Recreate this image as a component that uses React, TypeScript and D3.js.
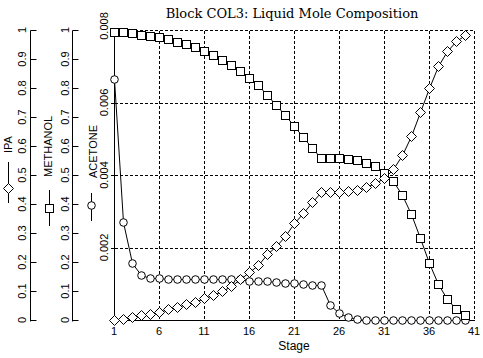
import React from 'react';
import * as d3 from 'd3';

const stages = [1,2,3,4,5,6,7,8,9,10,11,12,13,14,15,16,17,18,19,20,21,22,23,24,25,26,27,28,29,30,31,32,33,34,35,36,37,38,39,40];
const ipa = [0,0.003,0.011,0.017,0.021,0.029,0.038,0.046,0.055,0.063,0.075,0.086,0.1,0.118,0.141,0.164,0.19,0.226,0.255,0.29,0.333,0.37,0.406,0.44,0.44,0.44,0.445,0.448,0.46,0.471,0.489,0.522,0.569,0.634,0.718,0.801,0.876,0.929,0.963,0.983];
const methanol = [0.992,0.992,0.989,0.984,0.979,0.977,0.97,0.959,0.951,0.94,0.928,0.915,0.897,0.879,0.859,0.833,0.809,0.776,0.74,0.706,0.669,0.632,0.592,0.56,0.56,0.56,0.555,0.551,0.54,0.531,0.508,0.479,0.431,0.366,0.282,0.196,0.123,0.072,0.038,0.016];
const acetone = [0.00664,0.00271,0.00156,0.00124,0.00117,0.00115,0.00113,0.00113,0.00113,0.00113,0.00113,0.00113,0.00113,0.00113,0.00112,0.00108,0.00108,0.00107,0.00104,0.00103,0.00101,0.00099,0.00096,0.00096,0.00041,0.00018,0.00007,0.00002,0,0,0,0,0,0,0,0,0,0,0,0];
const xTicks = [1,6,11,16,21,26,31,36,41];
const fracTicks = [0,0.1,0.2,0.3,0.4,0.5,0.6,0.7,0.8,0.9,1];
const fracTickLabels = ["0","0.1","0.2","0.3","0.4","0.5","0.6","0.7","0.8","0.9","1"];
const aceTicks = [0.002,0.004,0.006,0.008];
const aceTickLabels = ["0.002","0.004","0.006","0.008"];
const title = "Block COL3: Liquid Mole Composition";
const xTitle = "Stage";
const seriesNames = ["IPA","METHANOL","ACETONE"];

const W = 483, H = 358;
const L = 114, R = 474, T = 30, B = 320;
const x = d3.scaleLinear().domain([1, 41]).range([L, R]);
const yF = d3.scaleLinear().domain([0, 1]).range([B, T]);
const yA = d3.scaleLinear().domain([0, 0.008]).range([B, T]);

const font = "'Liberation Sans', Arial, sans-serif";
const c = (v: number) => Math.round(v) + 0.5;

function Marker({ kind, cx, cy }: { kind: string; cx: number; cy: number }) {
  if (kind === 'square') return <rect x={c(cx) - 4} y={c(cy) - 4} width={8} height={8} fill="#fff" stroke="#000" strokeWidth={1} />;
  if (kind === 'circle') return <circle cx={c(cx)} cy={c(cy)} r={3.8} fill="#fff" stroke="#000" strokeWidth={1} />;
  const X = c(cx), Y = c(cy);
  return <path d={`M${X},${Y - 5}L${X + 5},${Y}L${X},${Y + 5}L${X - 5},${Y}Z`} fill="#fff" stroke="#000" strokeWidth={1} />;
}

export default function App() {
  const lineF = d3.line<number>().x((_, i) => c(x(stages[i]))).y(d => c(yF(d)));
  const lineA = d3.line<number>().x((_, i) => c(x(stages[i]))).y(d => c(yA(d)));
  const gridX = xTicks.filter(t => t !== 1);

  const fracAxis = (ax: number, lx: number) => (
    <g>
      <line x1={c(ax)} x2={c(ax)} y1={c(yF(0)) + 1} y2={c(yF(1))} stroke="#000" />
      {fracTicks.map((t, i) => (
        <g key={i}>
          <line x1={c(ax)} x2={c(ax) + 6} y1={c(yF(t))} y2={c(yF(t))} stroke="#000" />
          <text transform={`translate(${lx},${yF(t)}) rotate(-90)`} textAnchor="middle" fontSize={11} fontFamily={font}>{fracTickLabels[i]}</text>
        </g>
      ))}
    </g>
  );

  const legend = (name: string, kind: string, lx: number, tx: number, my: number, top: number, bottom: number, textEnd: number) => (
    <g>
      <line x1={c(lx)} x2={c(lx)} y1={bottom} y2={top} stroke="#000" />
      <Marker kind={kind} cx={lx} cy={my} />
      <text transform={`translate(${tx},${textEnd}) rotate(-90)`} textAnchor="start" fontSize={11} fontFamily={font}>{name}</text>
    </g>
  );

  return (
    <svg width={W} height={H} style={{ position: 'absolute', left: 0, top: 0, background: '#fff' }}>
      <rect width={W} height={H} fill="#fff" />
      <text x={(L + R) / 2 - 2} y={18} textAnchor="middle" fontSize={13} fontFamily="'DejaVu Serif', 'Liberation Serif', serif">{title}</text>
      {gridX.map(t => (
        <line key={t} x1={c(x(t))} x2={c(x(t))} y1={c(T)} y2={c(B)} stroke="#000" strokeDasharray="3,2" shapeRendering="crispEdges" />
      ))}
      {aceTicks.map(t => (
        <line key={t} x1={c(L)} x2={c(R)} y1={c(yA(t))} y2={c(yA(t))} stroke="#000" strokeDasharray="3,2" shapeRendering="crispEdges" />
      ))}
      <line x1={c(L)} x2={c(R)} y1={c(B)} y2={c(B)} stroke="#000" shapeRendering="crispEdges" />
      <line x1={c(L)} x2={c(L)} y1={c(T)} y2={c(B)} stroke="#000" shapeRendering="crispEdges" />
      {aceTicks.map((t, i) => (
        <g key={i}>
          <line x1={c(L) - 4} x2={c(L)} y1={c(yA(t))} y2={c(yA(t))} stroke="#000" shapeRendering="crispEdges" />
          <text transform={`translate(${108},${yA(t) - (i === aceTicks.length - 1 ? 4 : 0)}) rotate(-90)`} textAnchor="middle" fontSize={11} fontFamily={font}>{aceTickLabels[i]}</text>
        </g>
      ))}
      {xTicks.map(t => (
        <text key={t} x={x(t)} y={335} textAnchor="middle" fontSize={11} fontFamily={font}>{t}</text>
      ))}
      <text x={(L + R) / 2} y={350} textAnchor="middle" fontSize={12} fontFamily={font}>{xTitle}</text>
      {fracAxis(30, 26)}
      {fracAxis(72, 69)}
      {legend(seriesNames[0], 'diamond', 8, 12, 188, 162, 203, 153)}
      {legend(seriesNames[1], 'square', 49, 52, 208, 190, 226, 177)}
      {legend(seriesNames[2], 'circle', 91, 97, 205, 193, 221, 178)}
      <path d={lineA(acetone) || ''} fill="none" stroke="#000" />
      <path d={lineF(methanol) || ''} fill="none" stroke="#000" />
      <path d={lineF(ipa) || ''} fill="none" stroke="#000" />
      {acetone.map((v, i) => <Marker key={'a' + i} kind="circle" cx={x(stages[i])} cy={yA(v)} />)}
      {methanol.map((v, i) => <Marker key={'m' + i} kind="square" cx={x(stages[i])} cy={yF(v)} />)}
      {ipa.map((v, i) => <Marker key={'i' + i} kind="diamond" cx={x(stages[i])} cy={yF(v)} />)}
    </svg>
  );
}
